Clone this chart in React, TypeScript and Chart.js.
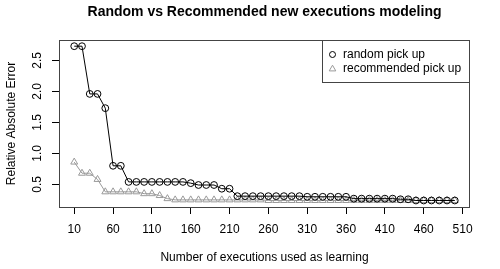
import React, { useEffect, useRef } from "react";
import { Chart, registerables } from "chart.js";

Chart.register(...registerables);

const xValues = [10,20,30,40,50,60,70,80,90,100,110,120,130,140,150,160,170,180,190,200,210,220,230,240,250,260,270,280,290,300,310,320,330,340,350,360,370,380,390,400,410,420,430,440,450,460,470,480,490,500];
const randomPickUp = [2.73,2.73,1.96,1.96,1.73,0.80,0.80,0.54,0.54,0.54,0.54,0.54,0.54,0.54,0.54,0.52,0.49,0.49,0.49,0.43,0.43,0.31,0.31,0.31,0.31,0.31,0.31,0.31,0.31,0.31,0.30,0.30,0.30,0.30,0.30,0.30,0.27,0.27,0.27,0.27,0.27,0.27,0.26,0.26,0.24,0.24,0.24,0.24,0.24,0.24];
const recommendedPickUp = [0.86,0.68,0.68,0.58,0.38,0.38,0.38,0.38,0.38,0.35,0.35,0.32,0.27,0.25,0.25,0.25,0.25,0.25,0.25,0.25,0.25,0.25,0.25,0.25,0.25,0.24,0.24,0.24,0.24,0.24,0.24,0.24,0.24,0.24,0.24,0.24,0.24,0.24,0.24,0.24,0.24,0.24,0.24,0.24,0.24,0.24,0.24,0.24,0.24,0.24];
const xTicks = [10,60,110,160,210,260,310,360,410,460,510];
const yTicks = [0.5,1.0,1.5,2.0,2.5];
const seriesNames = ["random pick up", "recommended pick up"];
const titleText = "Random vs Recommended new executions modeling";
const xTitle = "Number of executions used as learning";
const yTitle = "Relative Absolute Error";

const FONT = '"Liberation Sans", Arial, sans-serif';
const GREY = "#9a9a9a";

export default function App() {
  const ref = useRef<HTMLCanvasElement>(null);
  useEffect(() => {
    const canvas = ref.current;
    if (!canvas) return;
    const decor = {
      id: "decor",
      afterDraw(chart: any) {
        const ctx = chart.ctx;
        const ca = chart.chartArea;
        const ys = chart.scales.y;
        ctx.save();
        // box
        ctx.strokeStyle = "#444";
        ctx.lineWidth = 1;
        ctx.strokeRect(ca.left + 0.5, ca.top + 0.5, ca.right - ca.left - 1, ca.bottom - ca.top);
        ctx.fillStyle = "#000";
        // title
        ctx.font = `bold 14px ${FONT}`;
        ctx.textAlign = "center";
        ctx.textBaseline = "middle";
        ctx.fillText(titleText, (ca.left + ca.right) / 2, 12);
        // x title
        ctx.font = `12px ${FONT}`;
        ctx.fillText(xTitle, (ca.left + ca.right) / 2, 258);
        // y title
        ctx.save();
        ctx.translate(12, (ca.top + ca.bottom) / 2);
        ctx.rotate(-Math.PI / 2);
        ctx.fillText(yTitle, 0, 0);
        ctx.restore();
        // y tick labels
        for (const v of yTicks) {
          const py = ys.getPixelForValue(v);
          ctx.save();
          ctx.translate(38, py);
          ctx.rotate(-Math.PI / 2);
          ctx.fillText(v.toFixed(1), 0, 0);
          ctx.restore();
        }
        // legend
        const lx = 322, ly = 40, lw = ca.right - 322, lh = 42;
        ctx.strokeStyle = "#444";
        ctx.strokeRect(lx + 0.5, ly + 0.5, lw - 1, lh);
        ctx.textAlign = "left";
        ctx.font = `12px ${FONT}`;
        // circle
        ctx.strokeStyle = "#000";
        ctx.beginPath();
        ctx.arc(332.5, 54.5, 3, 0, Math.PI * 2);
        ctx.stroke();
        ctx.fillText(seriesNames[0], 343, 54.5);
        // triangle
        ctx.strokeStyle = GREY;
        const r = 3.8, tx = 332.5, ty = 69;
        ctx.beginPath();
        ctx.moveTo(tx, ty - r);
        ctx.lineTo(tx + r * 0.866, ty + r * 0.5);
        ctx.lineTo(tx - r * 0.866, ty + r * 0.5);
        ctx.closePath();
        ctx.stroke();
        ctx.fillText(seriesNames[1], 343, 68.5);
        ctx.restore();
      },
    };
    const chart = new Chart(canvas, {
      type: "line",
      data: {
        datasets: [
          {
            label: seriesNames[0],
            data: xValues.map((x, i) => ({ x, y: randomPickUp[i] })),
            borderColor: "#000",
            borderWidth: 1,
            pointStyle: "circle",
            pointRadius: 3.4,
            pointBorderColor: "#000",
            pointBorderWidth: 1,
            pointBackgroundColor: "rgba(0,0,0,0)",
            fill: false,
            tension: 0,
          },
          {
            label: seriesNames[1],
            data: xValues.map((x, i) => ({ x, y: recommendedPickUp[i] })),
            borderColor: GREY,
            borderWidth: 1,
            pointStyle: "triangle",
            pointRadius: 4,
            pointBorderColor: GREY,
            pointBorderWidth: 1,
            pointBackgroundColor: "rgba(0,0,0,0)",
            fill: false,
            tension: 0,
          },
        ],
      },
      options: {
        animation: false,
        responsive: false,
        devicePixelRatio: 1,
        layout: { padding: { left: 0, top: 40, right: 30, bottom: 0 } },
        plugins: { legend: { display: false }, title: { display: false }, tooltip: { enabled: false } },
        scales: {
          x: {
            type: "linear",
            min: -9.6,
            max: 519.6,
            afterBuildTicks: (s: any) => { s.ticks = xTicks.map((v) => ({ value: v })); },
            afterFit: (s: any) => { s.height = 62; },
            grid: { display: true, drawOnChartArea: false, drawTicks: true, tickLength: 7, color: "#000", lineWidth: 1 },
            border: { display: false },
            ticks: { color: "#000", font: { family: FONT, size: 12 }, padding: 8, maxRotation: 0, autoSkip: false, callback: (v: any) => String(v) },
          },
          y: {
            type: "linear",
            min: 0.135,
            max: 2.83,
            afterBuildTicks: (s: any) => { s.ticks = yTicks.map((v) => ({ value: v })); },
            afterFit: (s: any) => { s.width = 59; },
            grid: { display: true, drawOnChartArea: false, drawTicks: true, tickLength: 7, color: "#000", lineWidth: 1 },
            border: { display: false },
            ticks: { display: false },
          },
        },
      },
      plugins: [decor],
    } as any);
    return () => chart.destroy();
  }, []);
  return (
    <div style={{ position: "absolute", left: 0, top: 0, width: 500, height: 269, background: "#fff" }}>
      <canvas ref={ref} width={500} height={269} style={{ width: 500, height: 269, display: "block" }} />
    </div>
  );
}
